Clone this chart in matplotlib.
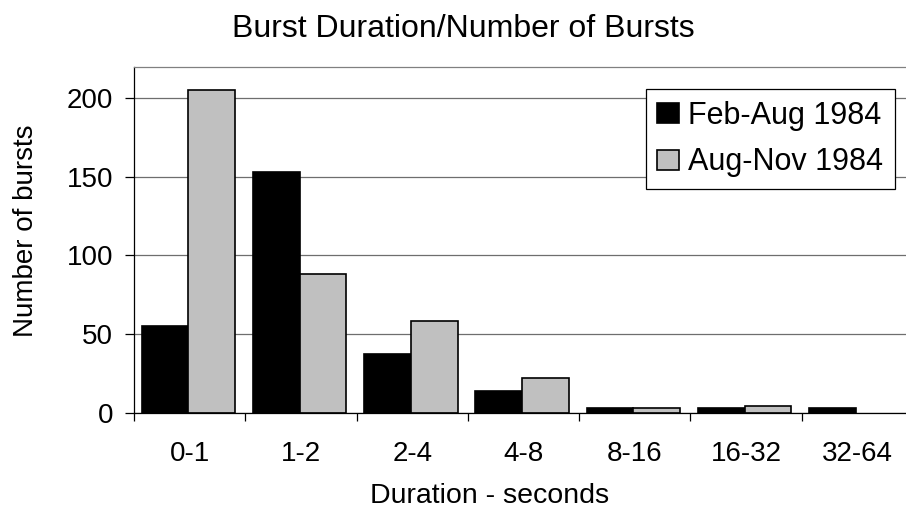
import matplotlib
matplotlib.use("Agg")
import matplotlib.pyplot as plt
import numpy as np

categories = ["0-1", "1-2", "2-4", "4-8", "8-16", "16-32", "32-64"]
feb_aug = [55, 153, 37, 14, 3, 3, 3]
aug_nov = [205, 88, 58, 22, 3, 4, 0]
series_names = ["Feb-Aug 1984", "Aug-Nov 1984"]
yticks = [0, 50, 100, 150, 200]

plt.rcParams['font.family'] = ['Liberation Sans', 'DejaVu Sans']

W, H = 906, 509
fig = plt.figure(figsize=(W / 100, H / 100), dpi=100)

def fx(px):
    return px / W

def fy(py):
    return 1 - py / H

left, right, top, bottom = 134, 913, 66.5, 412.7
ax = fig.add_axes([fx(left), fy(bottom), fx(right - left), (bottom - top) / H])

x = np.arange(len(categories))
bw = 0.42
for vals, color, name, off in [(feb_aug, "black", series_names[0], -bw / 2),
                               (aug_nov, "#c0c0c0", series_names[1], bw / 2)]:
    vals = np.asarray(vals, dtype=float)
    bars = ax.bar(x + off - 0.012, vals, width=bw, color=color, edgecolor="black",
                  linewidth=1.2, label=name, zorder=3)
    for b, v in zip(bars, vals):
        if v == 0:
            b.set_visible(False)

ax.set_xlim(-0.5, len(categories) - 0.5)
ax.set_ylim(0, 220)
ax.set_yticks(yticks)
ax.set_yticklabels([str(v) for v in yticks])
ax.set_xticks(x)
ax.set_xticklabels(categories)
ax.set_xticks(np.arange(-0.5, len(categories) + 0.5, 1.0), minor=True)

ax.tick_params(axis='x', which='major', length=0, pad=20.5, labelsize=20)
ax.tick_params(axis='x', which='minor', length=5.8, width=0.9, direction='out', color='black')
ax.tick_params(axis='y', which='major', length=6.5, width=0.9, direction='out', pad=8.6,
               labelsize=20, color='black')

ax.yaxis.grid(True, color='#6e6e6e', linewidth=0.9, zorder=0)
ax.set_axisbelow(True)

ax.spines['left'].set_color('black')
ax.spines['left'].set_linewidth(0.9)
ax.spines['bottom'].set_color('black')
ax.spines['bottom'].set_linewidth(0.9)
ax.spines['bottom'].set_zorder(4)
ax.spines['top'].set_color('#808080')
ax.spines['top'].set_linewidth(0.9)
ax.spines['right'].set_color('#808080')

leg = ax.legend(loc='upper left', bbox_to_anchor=(fx(645.7), fy(89)),
                bbox_transform=fig.transFigure, fontsize=22, frameon=True,
                fancybox=False, framealpha=1, edgecolor='black', borderpad=0.38,
                handlelength=0.707, handleheight=0.62, handletextpad=0.3,
                labelspacing=0.55, borderaxespad=0)
leg.get_frame().set_linewidth(0.9)
leg.set_zorder(5)

fig.text(fx(463.5), fy(37.3), "Burst Duration/Number of Bursts", ha='center',
         va='baseline', fontsize=23)
fig.text(fx(490), fy(503), "Duration - seconds", ha='center', va='baseline',
         fontsize=20.5)
fig.text(fx(33), fy(230.5), "Number of bursts", ha='center', va='baseline',
         rotation=90, rotation_mode='anchor', fontsize=20)

fig.savefig("out.png", dpi=100)
